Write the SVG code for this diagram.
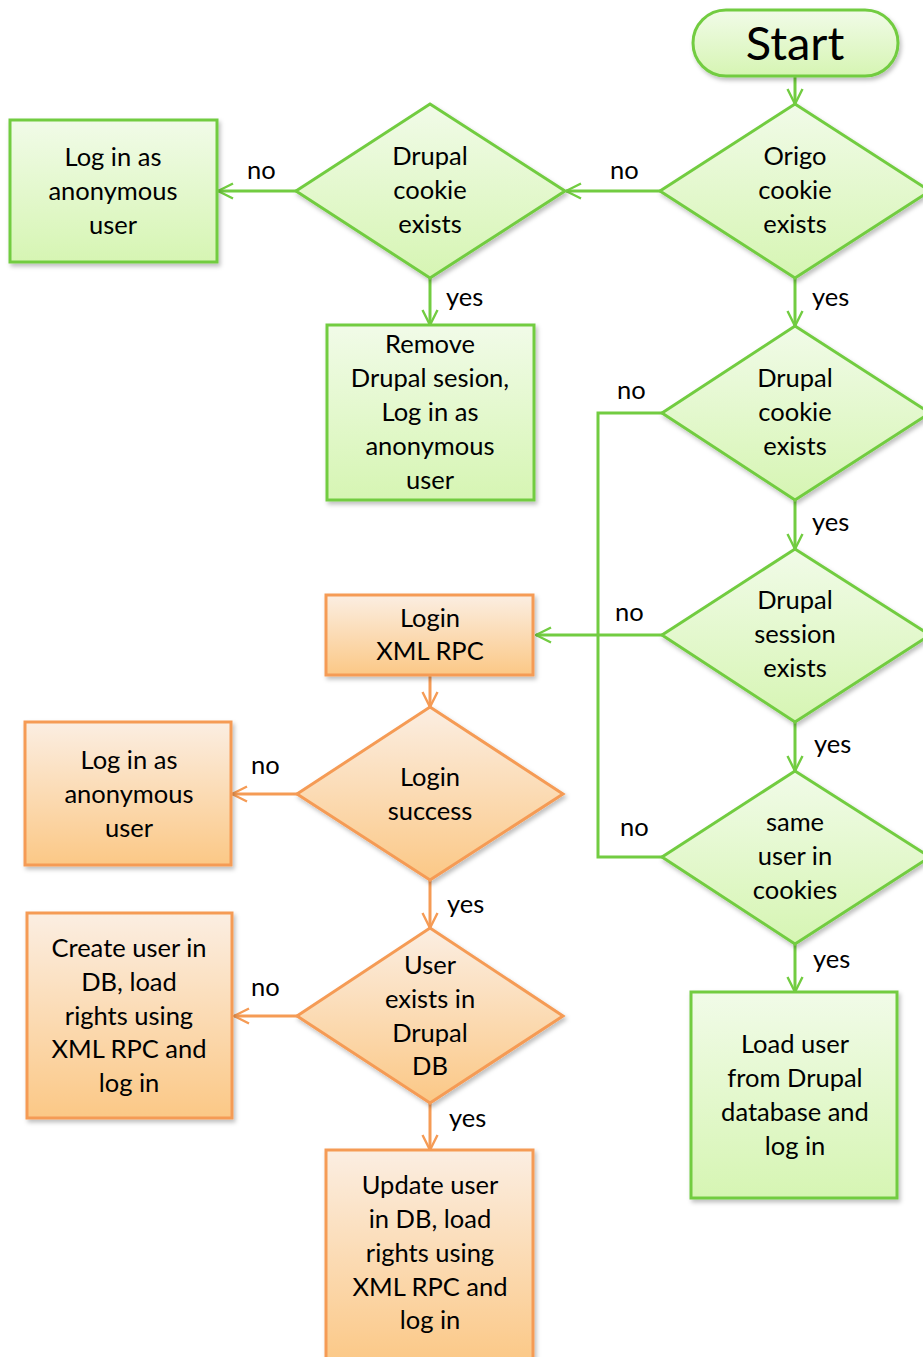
<svg xmlns="http://www.w3.org/2000/svg" width="923" height="1357" viewBox="0 0 923 1357">
<defs>
<linearGradient id="gG" x1="0" y1="0" x2="0" y2="1"><stop offset="0" stop-color="#f1fbe8"/><stop offset="1" stop-color="#d6f5b3"/></linearGradient>
<linearGradient id="gO" x1="0" y1="0" x2="0" y2="1"><stop offset="0" stop-color="#fbeee2"/><stop offset="1" stop-color="#fbc886"/></linearGradient>
<filter id="sh" x="-10%" y="-10%" width="130%" height="130%"><feDropShadow dx="2" dy="3" stdDeviation="2" flood-color="#000" flood-opacity="0.25"/></filter>
<marker id="aG" viewBox="0 0 12 12" refX="11" refY="6" markerWidth="18" markerHeight="18" markerUnits="userSpaceOnUse" orient="auto"><path d="M1,1 L11,6 L1,11" fill="none" stroke="#72cc41" stroke-width="1.6"/></marker>
<marker id="aO" viewBox="0 0 12 12" refX="11" refY="6" markerWidth="18" markerHeight="18" markerUnits="userSpaceOnUse" orient="auto"><path d="M1,1 L11,6 L1,11" fill="none" stroke="#f59b55" stroke-width="1.6"/></marker>
</defs>
<style>
.g{fill:url(#gG);stroke:#72cc41;stroke-width:3;filter:url(#sh)}
.o{fill:url(#gO);stroke:#f59b55;stroke-width:3;filter:url(#sh)}
.cg{fill:none;stroke:#72cc41;stroke-width:3}
.co{fill:none;stroke:#f59b55;stroke-width:3}
text{font-family:Lato,"Liberation Sans",sans-serif;font-size:25.5px;fill:#000;text-anchor:middle}
.lb{text-anchor:start}
</style>
<rect width="923" height="1357" fill="#fff"/>
<g id="connectors">
<line class="cg" x1="795" y1="76" x2="795" y2="104" marker-end="url(#aG)"/>
<line class="cg" x1="660" y1="191" x2="566" y2="191" marker-end="url(#aG)"/>
<line class="cg" x1="296" y1="191" x2="218" y2="191" marker-end="url(#aG)"/>
<line class="cg" x1="430" y1="278" x2="430" y2="325" marker-end="url(#aG)"/>
<line class="cg" x1="795" y1="278" x2="795" y2="326" marker-end="url(#aG)"/>
<polyline class="cg" points="662,413 598,413 598,857 662,857"/>
<line class="cg" x1="662" y1="635" x2="536" y2="635" marker-end="url(#aG)"/>
<line class="cg" x1="795" y1="500" x2="795" y2="549" marker-end="url(#aG)"/>
<line class="cg" x1="795" y1="722" x2="795" y2="771" marker-end="url(#aG)"/>
<line class="cg" x1="795" y1="944" x2="795" y2="992" marker-end="url(#aG)"/>
<line class="co" x1="430" y1="676" x2="430" y2="707" marker-end="url(#aO)"/>
<line class="co" x1="297" y1="794" x2="232" y2="794" marker-end="url(#aO)"/>
<line class="co" x1="430" y1="880" x2="430" y2="928" marker-end="url(#aO)"/>
<line class="co" x1="297" y1="1016" x2="234" y2="1016" marker-end="url(#aO)"/>
<line class="co" x1="430" y1="1103" x2="430" y2="1150" marker-end="url(#aO)"/>
<text class="lb" x="610" y="179">no</text>
<text class="lb" x="247" y="179">no</text>
<text class="lb" x="446" y="306">yes</text>
<text class="lb" x="812" y="306">yes</text>
<text class="lb" x="617" y="399">no</text>
<text class="lb" x="812" y="531">yes</text>
<text class="lb" x="615" y="621">no</text>
<text class="lb" x="814" y="753">yes</text>
<text class="lb" x="620" y="836">no</text>
<text class="lb" x="813" y="968">yes</text>
<text class="lb" x="251" y="774">no</text>
<text class="lb" x="447" y="913">yes</text>
<text class="lb" x="251" y="996">no</text>
<text class="lb" x="449" y="1127">yes</text>
</g>
<g id="start"><rect class="g" x="693" y="10" width="205" height="66" rx="33"/><text x="795" y="60" style="font-size:47px">Start</text></g>
<g id="origo"><polygon class="g" points="795,104 930,191 795,278 660,191"/><text x="795" y="165">Origo</text><text x="795" y="199">cookie</text><text x="795" y="233">exists</text></g>
<g id="drupal1"><polygon class="g" points="430,104 565,191 430,278 296,191"/><text x="430" y="165">Drupal</text><text x="430" y="199">cookie</text><text x="430" y="233">exists</text></g>
<g id="anon1"><rect class="g" x="10" y="120" width="207" height="142"/><text x="113" y="166">Log in as</text><text x="113" y="200">anonymous</text><text x="113" y="234">user</text></g>
<g id="remove"><rect class="g" x="327" y="325" width="207" height="175"/><text x="430" y="353">Remove</text><text x="430" y="387">Drupal sesion,</text><text x="430" y="421">Log in as</text><text x="430" y="455">anonymous</text><text x="430" y="489">user</text></g>
<g id="drupal2"><polygon class="g" points="795,326 930,413 795,500 662,413"/><text x="795" y="387">Drupal</text><text x="795" y="421">cookie</text><text x="795" y="455">exists</text></g>
<g id="session"><polygon class="g" points="795,549 930,635 795,722 662,635"/><text x="795" y="609">Drupal</text><text x="795" y="643">session</text><text x="795" y="677">exists</text></g>
<g id="sameuser"><polygon class="g" points="795,771 930,857 795,944 662,857"/><text x="795" y="831">same</text><text x="795" y="865">user in</text><text x="795" y="899">cookies</text></g>
<g id="loaduser"><rect class="g" x="691" y="992" width="206" height="206"/><text x="795" y="1053">Load user</text><text x="795" y="1087">from Drupal</text><text x="795" y="1121">database and</text><text x="795" y="1155">log in</text></g>
<g id="loginrpc"><rect class="o" x="326" y="595" width="207" height="80"/><text x="430" y="627">Login</text><text x="430" y="660">XML RPC</text></g>
<g id="loginsuccess"><polygon class="o" points="430,707 563,794 430,880 297,794"/><text x="430" y="786">Login</text><text x="430" y="820">success</text></g>
<g id="anon2"><rect class="o" x="25" y="722" width="206" height="143"/><text x="129" y="769">Log in as</text><text x="129" y="803">anonymous</text><text x="129" y="837">user</text></g>
<g id="userexists"><polygon class="o" points="430,928 563,1016 430,1103 297,1016"/><text x="430" y="974">User</text><text x="430" y="1008">exists in</text><text x="430" y="1042">Drupal</text><text x="430" y="1075">DB</text></g>
<g id="createuser"><rect class="o" x="27" y="913" width="205" height="205"/><text x="129" y="957">Create user in</text><text x="129" y="991">DB, load</text><text x="129" y="1025">rights using</text><text x="129" y="1058">XML RPC and</text><text x="129" y="1092">log in</text></g>
<g id="updateuser"><rect class="o" x="326" y="1150" width="207" height="215"/><text x="430" y="1194">Update user</text><text x="430" y="1228">in DB, load</text><text x="430" y="1262">rights using</text><text x="430" y="1296">XML RPC and</text><text x="430" y="1329">log in</text></g>
</svg>
